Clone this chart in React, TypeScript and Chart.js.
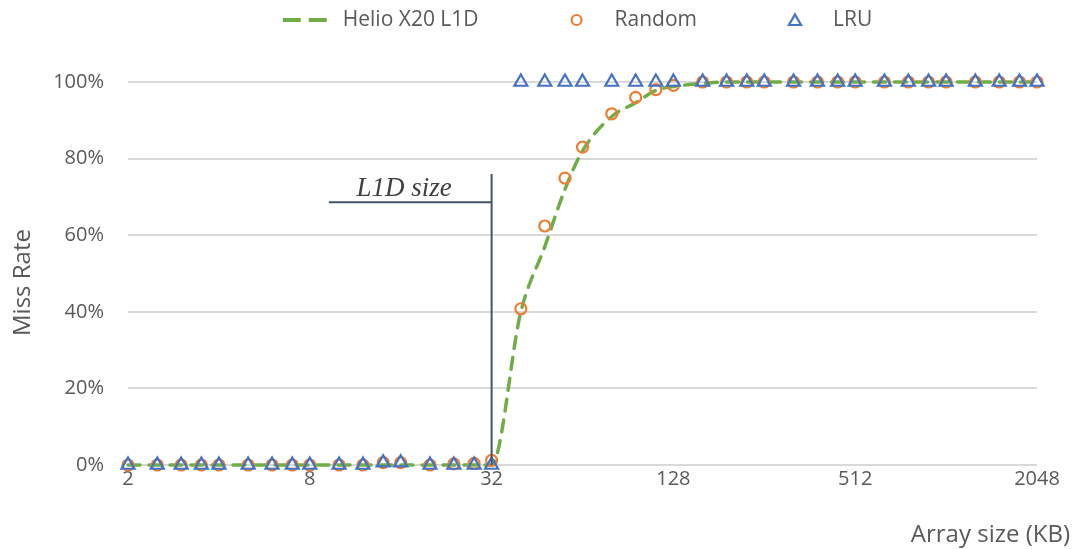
import React, { useEffect, useRef } from 'react';
import { Chart, registerables } from 'chart.js';

Chart.register(...registerables);

// ---- data ----
const sizesKB = [2, 2.5, 3, 3.5, 4, 5, 6, 7, 8, 10, 12, 14, 16, 20, 24, 28, 32, 40, 48, 56, 64, 80, 96, 112, 128, 160, 192, 224, 256, 320, 384, 448, 512, 640, 768, 896, 1024, 1280, 1536, 1792, 2048];
const helioX20L1D = [0, 0, 0, 0, 0, 0, 0, 0, 0, 0, 0, 0, 0, 0, 0, 0, 0, 40, 57, 72, 82, 91, 94.6, 97.8, 98.8, 99.6, 100, 100, 100, 100, 100, 100, 100, 100, 100, 100, 100, 100, 100, 100, 100];
const randomMiss = [0, 0, 0, 0, 0, 0, 0, 0, 0, 0, 0, 0.6, 0.6, 0, 0.3, 0.4, 1.2, 40.8, 62.4, 74.9, 83.0, 91.7, 96.0, 98.0, 99.1, 100, 100, 100, 100, 100, 100, 100, 100, 100, 100, 100, 100, 100, 100, 100, 100];
const lruMiss = [0, 0, 0, 0, 0, 0, 0, 0, 0, 0, 0, 0.6, 0.6, 0, 0, 0, 0, 100, 100, 100, 100, 100, 100, 100, 100, 100, 100, 100, 100, 100, 100, 100, 100, 100, 100, 100, 100, 100, 100, 100, 100];
const seriesNames = ['Helio X20 L1D', 'Random', 'LRU'];
const xTickValues = [2, 8, 32, 128, 512, 2048];
const yTickValues = [0, 20, 40, 60, 80, 100];
const xTitle = 'Array size (KB)';
const yTitle = 'Miss Rate';
const annotationLabel = 'L1D size';
const l1dSizeKB = 32;
const annotationLeftKB = 9.25;
const annotationTopPct = 76;
const annotationBarPct = 68.6;

// ---- styles ----
const GREEN = '#70AD47';
const ORANGE = '#ED7D31';
const BLUE = '#4472C4';
const TEXT = '#595959';
const FONT = "'Open Sans', sans-serif";

function drawTriangle(ctx: CanvasRenderingContext2D, x: number, y: number, r: number) {
  ctx.beginPath();
  let a = 0;
  ctx.moveTo(x + Math.sin(a) * r, y - Math.cos(a) * r);
  a += (2 * Math.PI) / 3;
  ctx.lineTo(x + Math.sin(a) * r, y - Math.cos(a) * r);
  a += (2 * Math.PI) / 3;
  ctx.lineTo(x + Math.sin(a) * r, y - Math.cos(a) * r);
  ctx.closePath();
  ctx.stroke();
}

const overlayPlugin = {
  id: 'overlay',
  afterDraw(chart: any) {
    const { ctx, chartArea, scales } = chart;
    const xs = scales.x;
    const ys = scales.y;
    ctx.save();

    // L1D size annotation
    const xL = xs.getPixelForValue(l1dSizeKB);
    const xLeft = xs.getPixelForValue(annotationLeftKB);
    const yTop = ys.getPixelForValue(annotationTopPct);
    const yBar = ys.getPixelForValue(annotationBarPct);
    const yBot = ys.getPixelForValue(0);
    ctx.strokeStyle = '#44546A';
    ctx.lineWidth = 2;
    ctx.setLineDash([]);
    ctx.beginPath();
    ctx.moveTo(xL, yTop);
    ctx.lineTo(xL, yBot);
    ctx.moveTo(xLeft, yBar);
    ctx.lineTo(xL, yBar);
    ctx.stroke();
    ctx.font = "italic 27px 'Liberation Serif', serif";
    ctx.fillStyle = '#404040';
    ctx.textAlign = 'center';
    ctx.textBaseline = 'alphabetic';
    ctx.fillText(annotationLabel, (xLeft + xL) / 2 - 6, yBar - 6);

    // axis titles
    ctx.fillStyle = TEXT;
    ctx.font = `24px ${FONT}`;
    ctx.textAlign = 'right';
    ctx.textBaseline = 'alphabetic';
    ctx.fillText(xTitle, chartArea.right + 33, 542);
    ctx.save();
    ctx.translate(23, (chartArea.top + chartArea.bottom) / 2 + 9);
    ctx.rotate(-Math.PI / 2);
    ctx.textAlign = 'center';
    ctx.textBaseline = 'middle';
    ctx.fillText(yTitle, 0, 0);
    ctx.restore();

    // legend
    ctx.font = `21px ${FONT}`;
    const iconW = 44;
    const gapText = 16;
    const itemGap = 76;
    const widths = seriesNames.map((n) => ctx.measureText(n).width);
    const total = widths.reduce((a, b) => a + b, 0) + seriesNames.length * (iconW + gapText) + itemGap * (seriesNames.length - 1);
    let x = (chartArea.left + chartArea.right) / 2 - 5 - total / 2;
    const ly = 20;
    seriesNames.forEach((name, i) => {
      ctx.save();
      if (i === 0) {
        ctx.strokeStyle = GREEN;
        ctx.lineWidth = 4;
        ctx.lineCap = 'butt';
        ctx.setLineDash([18, 8]);
        ctx.beginPath();
        ctx.moveTo(x, ly);
        ctx.lineTo(x + iconW, ly);
        ctx.stroke();
      } else if (i === 1) {
        ctx.strokeStyle = ORANGE;
        ctx.lineWidth = 2.2;
        ctx.beginPath();
        ctx.arc(x + iconW / 2, ly, 5, 0, Math.PI * 2);
        ctx.stroke();
      } else {
        ctx.strokeStyle = BLUE;
        ctx.lineWidth = 2.2;
        drawTriangle(ctx, x + iconW / 2, ly + 1.5, 7);
      }
      ctx.restore();
      ctx.fillStyle = TEXT;
      ctx.textAlign = 'left';
      ctx.textBaseline = 'middle';
      ctx.fillText(name, x + iconW + gapText, ly);
      x += iconW + gapText + widths[i] + itemGap;
    });

    ctx.restore();
  },
};

export default function App() {
  const canvasRef = useRef<HTMLCanvasElement | null>(null);

  useEffect(() => {
    const canvas = canvasRef.current;
    if (!canvas) return;
    const chart = new Chart(canvas, {
      type: 'scatter',
      data: {
        datasets: [
          {
            label: seriesNames[0],
            data: sizesKB.map((x, i) => ({ x, y: helioX20L1D[i] })),
            showLine: true,
            borderColor: GREEN,
            backgroundColor: GREEN,
            borderWidth: 3.5,
            borderDash: [12, 9],
            borderCapStyle: 'round',
            pointRadius: 0,
            pointHoverRadius: 0,
            cubicInterpolationMode: 'monotone',
            clip: false,
            order: 3,
          },
          {
            label: seriesNames[1],
            data: sizesKB.map((x, i) => ({ x, y: randomMiss[i] })),
            showLine: false,
            pointStyle: 'circle',
            pointRadius: 5.5,
            pointHoverRadius: 5.5,
            pointBorderWidth: 2.2,
            pointBorderColor: ORANGE,
            pointBackgroundColor: 'rgba(255,255,255,0)',
            borderColor: ORANGE,
            backgroundColor: 'rgba(255,255,255,0)',
            clip: false,
            order: 2,
          },
          {
            label: seriesNames[2],
            data: sizesKB.map((x, i) => ({ x, y: lruMiss[i] })),
            showLine: false,
            pointStyle: 'triangle',
            pointRadius: 7.5,
            pointHoverRadius: 7.5,
            pointBorderWidth: 2.2,
            pointBorderColor: BLUE,
            pointBackgroundColor: 'rgba(255,255,255,0)',
            borderColor: BLUE,
            backgroundColor: 'rgba(255,255,255,0)',
            clip: false,
            order: 1,
          },
        ],
      } as any,
      options: {
        responsive: false,
        animation: false,
        events: [],
        layout: { padding: { top: 82, right: 35, left: 0, bottom: 0 } },
        plugins: { legend: { display: false }, tooltip: { enabled: false } },
        scales: {
          x: {
            type: 'logarithmic',
            min: 2,
            max: 2048,
            afterBuildTicks: (s: any) => {
              s.ticks = xTickValues.map((v) => ({ value: v }));
            },
            afterFit: (s: any) => {
              s.height = 84;
            },
            ticks: {
              callback: (v: any) => String(v),
              color: TEXT,
              font: { family: FONT, size: 20 },
              padding: 2,
              maxRotation: 0,
              autoSkip: false,
            },
            grid: { display: false, drawTicks: false },
            border: { display: false },
          },
          y: {
            min: 0,
            max: 100,
            afterBuildTicks: (s: any) => {
              s.ticks = yTickValues.map((v) => ({ value: v }));
            },
            afterFit: (s: any) => {
              s.width = 128;
            },
            ticks: {
              callback: (v: any) => `${v}%`,
              color: TEXT,
              font: { family: FONT, size: 20 },
              padding: 24,
            },
            grid: { color: '#D9D9D9', lineWidth: 2, drawTicks: false },
            border: { display: false },
          },
        },
      } as any,
      plugins: [overlayPlugin],
    });
    return () => chart.destroy();
  }, []);

  return (
    <div style={{ position: 'fixed', left: 0, top: 0, width: 1072, height: 549, background: '#fff' }}>
      <canvas ref={canvasRef} width={1072} height={549} style={{ display: 'block', width: 1072, height: 549 }} />
    </div>
  );
}
